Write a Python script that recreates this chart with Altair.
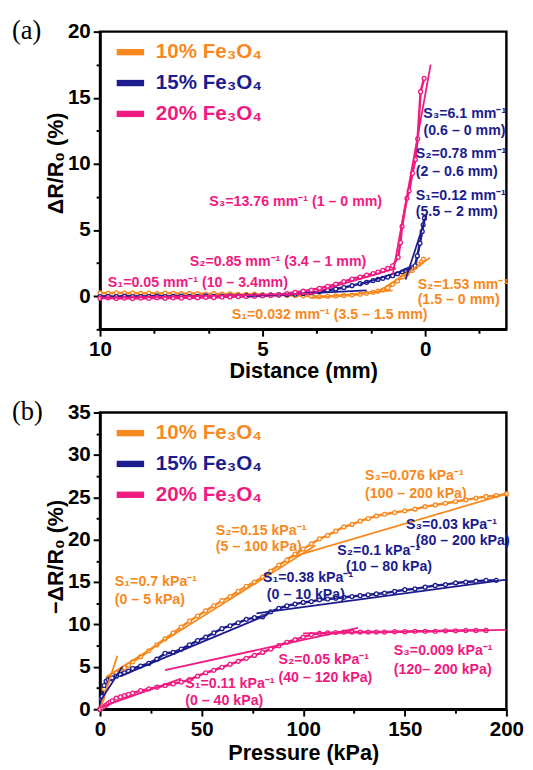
import altair as alt
import pandas as pd

FONT = "Liberation Sans"
SERIF = "Liberation Serif"
ORANGE = "#F7891E"
NAVY = "#1C1C8E"
PINK = "#F01A80"
SERIES = ["10% Fe₃O₄", "15% Fe₃O₄", "20% Fe₃O₄"]
COLORS = [ORANGE, NAVY, PINK]

# ---------------- panel (a): response vs. distance ----------------
grid_a = [10.0, 9.75, 9.5, 9.25, 9.0, 8.75, 8.5, 8.25, 8.0, 7.75, 7.5, 7.25, 7.0,
          6.75, 6.5, 6.25, 6.0, 5.75, 5.5, 5.25, 5.0, 4.75, 4.5, 4.25, 4.0, 3.75,
          3.5, 3.25, 3.0, 2.75, 2.5, 2.25, 2.0]
a10_d = grid_a + [1.8, 1.6, 1.45, 1.3, 1.15, 1.0, 0.85, 0.7, 0.55, 0.4, 0.3, 0.2, 0.1, 0.05]
a10_v = [0.25, 0.22, 0.26, 0.23, 0.25, 0.21, 0.24, 0.2, 0.23, 0.22,
         0.19, 0.21, 0.2, 0.17, 0.19, 0.16, 0.18, 0.15, 0.14, 0.16,
         0.12, 0.1, 0.11, 0.07, 0.05, 0.03, 0.02, -0.03, 0.0, 0.02,
         0.06, 0.09, 0.15,
         0.22, 0.3, 0.38, 0.47, 0.65, 0.9, 1.15, 1.46, 1.7, 1.95, 2.2, 2.4, 2.6, 2.8]
a15_d = grid_a + [1.8, 1.6, 1.45, 1.3, 1.15, 1.0, 0.85, 0.7, 0.6, 0.5, 0.4, 0.31, 0.24,
                  0.16, 0.09, 0.06, 0.02]
a15_v = [-0.02, 0.0, -0.03, 0.01, -0.02, 0.0, -0.01, 0.02, -0.02, 0.0,
         0.01, -0.01, 0.0, 0.02, 0.0, 0.01, 0.03, 0.02, 0.04,
         0.05, 0.06, 0.08, 0.1, 0.12, 0.15, 0.2, 0.27, 0.35, 0.45, 0.55, 0.66, 0.8, 0.95,
         1.05, 1.18, 1.27, 1.35, 1.45, 1.55, 1.7, 1.85, 1.95, 2.05, 2.15, 2.3, 3.05,
         4.0, 4.9, 5.4, 5.9]
a20_d = grid_a + [1.8, 1.6, 1.45, 1.3, 1.15, 1.0, 0.83, 0.76, 0.71, 0.56, 0.49, 0.39,
                  0.30, 0.23, 0.14, 0.03]
a20_v = [-0.15, -0.12, -0.17, -0.14, -0.18, -0.13, -0.15, -0.11, -0.16, -0.12,
         -0.14, -0.1, -0.12, -0.08, -0.1, -0.06, -0.05, -0.03, -0.02, 0.0, 0.03,
         0.08, 0.12, 0.2, 0.3, 0.38, 0.47, 0.6, 0.75, 0.92, 1.1, 1.3, 1.45,
         1.6, 1.72, 1.83, 1.95, 2.1, 2.3, 2.94, 4.05, 5.28, 7.4, 7.97, 9.3, 10.34,
         11.9, 15.46, 16.47]

# fitted segments (start/end) and their series index
fit_a_x1 = [3.5, 1.5, 5.5, 2.0, 0.6, 10.0, 3.4, 1.0]
fit_a_y1 = [-0.15, 0.25, 0.0, 0.9, 1.26, -0.15, 0.3, 1.6]
fit_a_x2 = [1.0, -0.15, 1.8, 0.4, -0.04, 3.4, 0.9, -0.17]
fit_a_y2 = [0.45, 2.9, 0.45, 2.15, 6.14, 0.2, 2.1, 17.5]
fit_a_s = [0, 0, 1, 1, 1, 2, 2, 2]

ann_a_text = ["S₁=0.05 mm⁻¹ (10 – 3.4mm)", "S₂=0.85 mm⁻¹ (3.4 – 1 mm)",
              "S₃=13.76 mm⁻¹ (1 – 0 mm)", "S₃=6.1 mm⁻¹", "(0.6 – 0 mm)",
              "S₂=0.78 mm⁻¹", "(2 – 0.6 mm)", "S₁=0.12 mm⁻¹", "(5.5 – 2 mm)",
              "S₂=1.53 mm⁻¹", "(1.5 – 0 mm)", "S₁=0.032 mm⁻¹  (3.5 – 1.5 mm)"]
ann_a_x = [9.76, 7.24, 6.64, 0.06, 0.05, 0.29, 0.29, 0.29, 0.29, 0.23, 0.23, 5.95]
ann_a_y = [0.98, 2.61, 7.12, 13.78, 12.52, 10.75, 9.42, 7.57, 6.38, 0.83, -0.28, -1.39]
ann_a_s = [2, 2, 2, 1, 1, 1, 1, 1, 1, 0, 0, 0]

# ---------------- panel (b): response vs. pressure ----------------
grid_b = [0, 1, 2, 3, 4, 5, 6, 8, 10, 12, 14, 16, 20, 24, 28, 32, 36, 40, 44, 48,
          52, 56, 60, 64, 68, 72, 76, 80, 84, 88, 92, 96, 100, 104, 108, 112, 116,
          120, 124, 128, 132, 136, 140, 145, 150, 155, 160, 165, 170, 175, 180,
          185, 190, 195, 200]
b10_v = [0, 1.2, 2.4, 3.3, 3.6, 3.8, 4.0,
         4.3, 4.6, 4.9, 5.2, 5.6,
         6.2, 6.9, 7.6, 8.3, 9.0, 9.7, 10.4, 11.0, 11.6, 12.2,
         12.8, 13.3, 13.9, 14.5, 15.0, 15.6, 16.3, 17.0, 17.6, 18.3,
         18.9, 19.5, 20.1, 20.5, 21.0, 21.5, 21.8, 22.2, 22.5, 22.8, 23.0,
         23.2, 23.4, 23.6, 23.9, 24.1, 24.3, 24.5, 24.7, 24.9, 25.1, 25.2, 25.4]
b15_v = [0, 1.5, 2.8, 3.3, 3.5, 3.6, 3.7,
         3.9, 4.1, 4.3, 4.5, 4.8,
         5.1, 5.4, 5.9, 6.6, 6.7, 7.1, 7.6, 8.1, 8.5, 9.0,
         9.5, 9.85, 10.2, 10.6, 10.8, 10.9, 11.5, 11.9, 12.2, 12.4,
         12.6, 12.7, 12.9, 13.0, 13.1, 13.2, 13.3, 13.4, 13.5, 13.6, 13.7,
         13.9, 14.1, 14.2, 14.4, 14.6, 14.7, 14.9, 15.0, 15.1, 15.2, 15.2]
b20_v = [0, 0.2, 0.35, 0.5, 0.7, 0.85, 1.0,
         1.3, 1.45, 1.6, 1.75, 1.9,
         2.2, 2.4, 2.6, 2.8, 3.0, 3.2, 3.5, 3.9, 4.3, 4.6,
         4.95, 5.3, 5.65, 6.0, 6.35, 6.7, 7.1, 7.5, 7.9, 8.2,
         8.5, 8.8, 8.95, 9.0, 9.05, 9.1, 9.1, 9.1, 9.1, 9.1, 9.1,
         9.15, 9.15, 9.2, 9.2, 9.2, 9.25, 9.25, 9.3, 9.3, 9.3]

fit_b_x1 = [0, 3, 92, 0, 10, 77, 0, 32, 100]
fit_b_y1 = [0, 3.8, 17.8, 0.9, 3.9, 11.3, 0.2, 4.6, 8.95]
fit_b_x2 = [8.5, 106, 200, 11, 82, 200, 40, 127, 200]
fit_b_y2 = [6.3, 19.3, 25.4, 5.0, 11.1, 15.3, 3.6, 9.6, 9.35]
fit_b_s = [0, 0, 0, 1, 1, 1, 2, 2, 2]

ann_b_text = ["S₁=0.7 kPa⁻¹", "(0 – 5 kPa)", "S₂=0.15 kPa⁻¹", "(5 – 100 kPa)",
              "S₃=0.076 kPa⁻¹", "(100 – 200 kPa)", "S₁=0.38 kPa⁻¹", "(0 – 10 kPa)",
              "S₂=0.1 kPa⁻¹", "(10 – 80 kPa)", "S₃=0.03 kPa⁻¹", "(80 – 200 kPa)",
              "S₁=0.11 kPa⁻¹", "(0 – 40 kPa)", "S₂=0.05 kPa⁻¹", "(40 – 120 kPa)",
              "S₃=0.009 kPa⁻¹", "(120– 200 kPa)"]
ann_b_x = [7.25, 7.25, 57, 57, 130.4, 130.4, 80.2, 82.1, 116.8, 121.1, 150.6, 155.4,
           41.9, 41.9, 87.8, 87.8, 144.6, 144.6]
ann_b_y = [15.05, 12.86, 21.02, 19.09, 27.49, 25.33, 15.44, 13.52, 18.63, 16.71,
           21.68, 19.79, 2.92, 1.0, 5.74, 3.62, 6.85, 4.66]
ann_b_s = [0, 0, 0, 0, 0, 0, 1, 1, 1, 1, 1, 1, 2, 2, 2, 2, 2, 2]

# ---------------- tables ----------------
def pts(xs, ys, k):
    return pd.DataFrame({"x": xs, "y": ys, "s": SERIES[k]})

pts_a = pd.concat([pts(a10_d, a10_v, 0), pts(a15_d, a15_v, 1), pts(a20_d, a20_v, 2)])
pts_b = pd.concat([pts(grid_b, b10_v, 0), pts(grid_b[:len(b15_v)], b15_v, 1),
                   pts(grid_b[:len(b20_v)], b20_v, 2)])
fits_a = pd.DataFrame({"x": fit_a_x1, "y": fit_a_y1, "x2": fit_a_x2, "y2": fit_a_y2,
                       "s": [SERIES[k] for k in fit_a_s]})
fits_b = pd.DataFrame({"x": fit_b_x1, "y": fit_b_y1, "x2": fit_b_x2, "y2": fit_b_y2,
                       "s": [SERIES[k] for k in fit_b_s]})
anns_a = pd.DataFrame({"x": ann_a_x, "y": ann_a_y, "t": ann_a_text,
                       "s": [SERIES[k] for k in ann_a_s]})
anns_b = pd.DataFrame({"x": ann_b_x, "y": ann_b_y, "t": ann_b_text,
                       "s": [SERIES[k] for k in ann_b_s]})
one = pd.DataFrame({"k": [0]})

color = alt.Color("s:N", scale=alt.Scale(domain=SERIES, range=COLORS), legend=None)


def axis(values, test, title, **kw):
    return alt.Axis(values=values, title=title, format="d", tickCount=len(values),
                    labelExpr=f"({test}) ? datum.label : ''",
                    tickSize={"condition": {"test": test, "value": 7}, "value": 4},
                    **kw)


def panel(label, pts_df, fits_df, anns_df, xenc, yenc, w, h):
    band = alt.Chart(pts_df).mark_line(strokeWidth=2.5).encode(
        x=xenc, y=yenc, color=color)
    marks = alt.Chart(pts_df).mark_point(filled=False, fill="white", fillOpacity=1,
                                         size=16, strokeWidth=1.3, opacity=1).encode(
        x=xenc, y=yenc, color=color)
    fit = alt.Chart(fits_df).mark_rule(strokeWidth=1.8, clip=True).encode(
        x=xenc, y=yenc, x2="x2:Q", y2="y2:Q", color=color)
    ann = alt.Chart(anns_df).mark_text(align="left", baseline="middle", font=FONT,
                                       fontSize=14.5, fontWeight="bold").encode(
        x=xenc, y=yenc, text="t:N", color=color)
    layers = [band, marks, fit, ann]
    for i, (name, col) in enumerate(zip(SERIES, COLORS)):
        yy = 21 + 31.5 * i
        layers.append(alt.Chart(one).mark_rule(strokeWidth=6.5, color=col).encode(
            x=alt.value(17), x2=alt.value(45), y=alt.value(yy)))
        layers.append(alt.Chart(one).mark_text(align="left", baseline="middle",
                                               font=FONT, fontSize=21, fontWeight="bold",
                                               color=col).encode(
            x=alt.value(57), y=alt.value(yy), text=alt.value(name)))
    layers.append(alt.Chart(one).mark_text(align="left", baseline="top",
                                           font=SERIF, fontSize=27, color="black").encode(
        x=alt.value(-90), y=alt.value(-13), text=alt.value(label)))
    return alt.layer(*layers).properties(width=w, height=h)


xa_vals = [round(10 - k * 5 / 6, 4) + 0.0 for k in range(16)]
xa_vals = [0.0 if abs(v) < 1e-9 else v for v in xa_vals]
ya_vals = [-2.5 + 2.5 * k for k in range(10)]
xb_vals = [25 * k for k in range(9)]
yb_vals = [2.5 * k for k in range(15)]
maj5 = "abs(datum.value / 5 - round(datum.value / 5)) < 0.001"
maj50 = "abs(datum.value / 50 - round(datum.value / 50)) < 0.001"

xa = alt.X("x:Q", scale=alt.Scale(domain=[10, -2.5], nice=False, zero=False),
           axis=axis(xa_vals, maj5, "Distance (mm)", titleY=42, titleBaseline="middle",
                     titleFontSize=22))
ya = alt.Y("y:Q", scale=alt.Scale(domain=[-2.5, 20], nice=False, zero=False),
           axis=axis(ya_vals, maj5, "ΔR/R₀ (%)", titleAngle=270, titleBaseline="middle",
                     titleX=-45, titleY=134, titleFontSize=22))
xb = alt.X("x:Q", scale=alt.Scale(domain=[0, 200], nice=False, zero=False),
           axis=axis(xb_vals, maj50, "Pressure (kPa)", titleY=44, titleBaseline="middle",
                     titleFontSize=22))
yb = alt.Y("y:Q", scale=alt.Scale(domain=[0, 35], nice=False, zero=False),
           axis=axis(yb_vals, maj5, "−ΔR/R₀ (%)", titleAngle=270, titleBaseline="middle",
                     titleX=-45, titleY=147, titleFontSize=22))

pa = panel("(a)", pts_a, fits_a, anns_a, xa, ya, 415, 304)
pb = panel("(b)", pts_b, fits_b, anns_b, xb, yb, 415, 303)

chart = alt.vconcat(pa, pb, spacing=14).properties(
    padding={"left": 2, "top": 0, "right": 0, "bottom": 0},
    background="white",
).configure_view(stroke="black", strokeWidth=2.5).configure_axis(
    domainColor="black", domainWidth=2.5, tickColor="black", tickWidth=2,
    labelFont=FONT, labelFontSize=21, labelFontWeight="bold", labelColor="black",
    labelPadding=3, labelOverlap=False, labelFlush=False,
    titleFont=FONT, titleFontWeight="bold", titleColor="black",
    grid=False,
)

chart.save("out.html", embed_options={"renderer": "svg", "actions": False})
